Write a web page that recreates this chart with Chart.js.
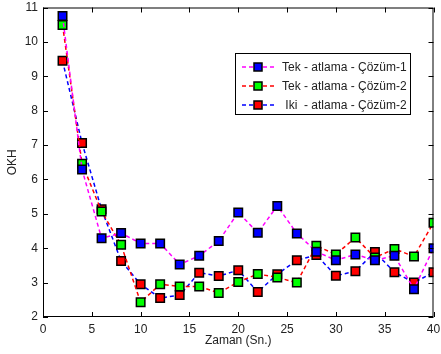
<!DOCTYPE html>
<html>
<head>
<meta charset="utf-8">
<script src="https://cdn.jsdelivr.net/npm/chart.js@4"></script>
<style>
    html, body { margin: 0; padding: 0; background: #fff; }
    #wrap { width: 441px; height: 354px; }
</style>
</head>
<body>
<div id="wrap"><canvas id="chart"></canvas></div>
<script>
// Data
const zaman = [2, 4, 6, 8, 10, 12, 14, 16, 18, 20, 22, 24, 26, 28, 30, 32, 34, 36, 38, 40];
const tekCozum1 = [10.75, 6.29, 4.29, 4.44, 4.14, 4.14, 3.53, 3.78, 4.21, 5.04, 4.45, 5.23, 4.43, 3.9, 3.65, 3.82, 3.65, 3.78, 2.81, 4.0];
const tekCozum2 = [10.49, 6.46, 5.07, 4.1, 2.43, 2.95, 2.89, 2.89, 2.7, 3.02, 3.25, 3.15, 3.0, 4.07, 3.82, 4.31, 3.73, 3.98, 3.76, 4.74];
const ikiCozum2 = [9.45, 7.06, 5.13, 3.63, 2.95, 2.55, 2.64, 3.29, 3.19, 3.36, 2.73, 3.24, 3.65, 3.8, 3.2, 3.33, 3.89, 3.3, 3.0, 3.3];
const xTicks = [0, 5, 10, 15, 20, 25, 30, 35, 40];
const yTicks = [2, 3, 4, 5, 6, 7, 8, 9, 10, 11];
const seriesNames = ['Tek - atlama - Çözüm-1', 'Tek - atlama - Çözüm-2', ' Iki  - atlama - Çözüm-2'];
const lineColors = ['#ff00ff', '#ff0000', '#0000ff'];
const markerColors = ['#0000ff', '#00ff00', '#ff0000'];

const FONT = "'Liberation Sans', Arial, sans-serif";

function toPoints(values) {
    return values.map((v, i) => ({ x: zaman[i], y: v }));
}

const allSeries = [tekCozum1, tekCozum2, ikiCozum2];

// Box, inward ticks on all four sides and the legend
const framePlugin = {
    id: 'frame',
    afterDatasetsDraw(chart) {
        const ctx = chart.ctx;
        const a = chart.chartArea;
        const xs = chart.scales.x;
        const ys = chart.scales.y;
        ctx.save();
        ctx.strokeStyle = '#000';
        ctx.lineWidth = 1;
        ctx.strokeRect(a.left + 0.5, a.top + 0.5, a.right - a.left - 1, a.bottom - a.top - 1);
        ctx.beginPath();
        xTicks.forEach(t => {
            const px = Math.round(xs.getPixelForValue(t)) + 0.5;
            ctx.moveTo(px, a.bottom); ctx.lineTo(px, a.bottom - 5);
            ctx.moveTo(px, a.top); ctx.lineTo(px, a.top + 5);
        });
        yTicks.forEach(t => {
            const py = Math.round(ys.getPixelForValue(t)) + 0.5;
            ctx.moveTo(a.left, py); ctx.lineTo(a.left + 5, py);
            ctx.moveTo(a.right, py); ctx.lineTo(a.right - 5, py);
        });
        ctx.stroke();

        // legend (line colours and marker colours as in the original)
        const lx = 235, ly = 53, lw = 175, lh = 61;
        ctx.fillStyle = '#fff';
        ctx.fillRect(lx, ly, lw, lh);
        ctx.strokeStyle = '#000';
        ctx.strokeRect(lx + 0.5, ly + 0.5, lw, lh);
        ctx.font = '12px ' + FONT;
        ctx.textBaseline = 'middle';
        seriesNames.forEach((name, i) => {
            const y = ly + 14 + i * 19;
            ctx.strokeStyle = lineColors[i];
            ctx.lineWidth = 1.5;
            ctx.setLineDash([4, 3]);
            ctx.beginPath();
            ctx.moveTo(242, y); ctx.lineTo(276, y);
            ctx.stroke();
            ctx.setLineDash([]);
            ctx.fillStyle = markerColors[i];
            ctx.fillRect(254, y - 4, 8, 8);
            ctx.strokeStyle = '#000';
            ctx.lineWidth = 1.5;
            ctx.strokeRect(254, y - 4, 8, 8);
            ctx.fillStyle = '#222';
            ctx.fillText(name, 282, y + 1);
        });
        ctx.restore();
    }
};

new Chart(document.getElementById('chart'), {
    type: 'line',
    data: {
        datasets: allSeries.map((vals, i) => ({
            label: seriesNames[i],
            data: toPoints(vals),
            borderColor: lineColors[i],
            borderWidth: 1.5,
            borderDash: [4, 3],
            pointStyle: 'rect',
            pointRadius: 6,
            pointBackgroundColor: markerColors[i],
            pointBorderColor: '#000',
            pointBorderWidth: 1.5,
            tension: 0,
            fill: false
        }))
    },
    options: {
        responsive: true,
        maintainAspectRatio: false,
        animation: false,
        layout: { padding: { top: 7, right: 6, left: 0, bottom: 0 } },
        plugins: {
            legend: { display: false },
            tooltip: { enabled: false }
        },
        scales: {
            x: {
                type: 'linear',
                min: 0,
                max: 40,
                afterBuildTicks: s => { s.ticks = xTicks.map(v => ({ value: v })); },
                afterFit: s => { s.height = 37; s.paddingLeft = 0; s.paddingRight = 0; },
                grid: { display: false, drawTicks: false },
                border: { display: false },
                ticks: { padding: 5, color: '#222', font: { family: FONT, size: 12 } },
                title: {
                    display: true,
                    text: 'Zaman (Sn.)',
                    color: '#222',
                    font: { family: FONT, size: 12 },
                    padding: { top: 0, bottom: 6 }
                }
            },
            y: {
                min: 2,
                max: 11,
                afterBuildTicks: s => { s.ticks = yTicks.map(v => ({ value: v })); },
                afterFit: s => { s.width = 43; s.paddingTop = 0; s.paddingBottom = 0; },
                grid: { display: false, drawTicks: false },
                border: { display: false },
                ticks: { padding: 5, color: '#222', font: { family: FONT, size: 12 } },
                title: {
                    display: true,
                    text: 'OKH',
                    color: '#222',
                    font: { family: FONT, size: 12 },
                    padding: { top: 5, bottom: 0 }
                }
            }
        }
    },
    plugins: [framePlugin]
});
</script>
</body>
</html>
